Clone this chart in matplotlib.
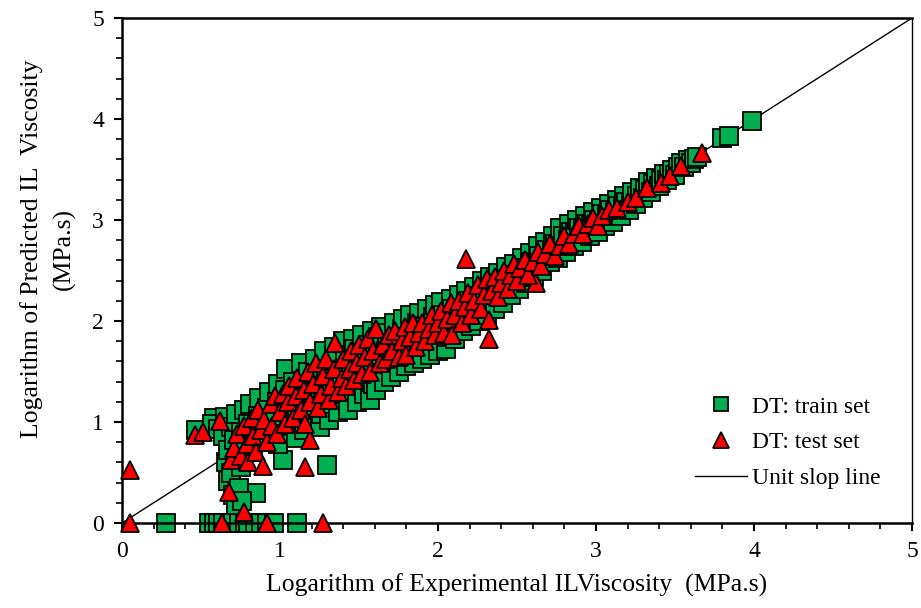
import matplotlib
matplotlib.use("Agg")
import matplotlib.pyplot as plt
from matplotlib.ticker import MultipleLocator
from matplotlib.lines import Line2D

plt.rcParams['font.family'] = ['Liberation Serif', 'DejaVu Serif']

# ---- data: train set (x = experimental log viscosity, y = predicted) ----
train_pts = [
    # points predicted as zero
    (0.28, 0.0), (0.55, 0.0), (0.58, 0.0), (0.61, 0.0), (0.64, 0.0), (0.70, 0.0),
    (0.74, 0.0), (0.78, 0.0), (0.80, 0.0), (0.84, 0.0), (0.88, 0.0), (0.92, 0.0),
    (0.96, 0.0), (1.11, 0.0),
    # scattered low points
    (0.47, 0.92), (0.58, 1.04), (1.02, 0.62), (1.30, 0.57), (0.85, 0.30),
    (0.66, 0.60), (0.67, 0.42), (0.69, 0.50), (0.70, 0.28), (0.72, 0.18),
    (0.74, 0.35), (0.76, 0.22), (0.75, 0.55),
    # x 0.55 - 1.0
    (0.57, 0.98), (0.61, 0.93), (0.64, 0.86), (0.65, 1.05), (0.67, 0.72), (0.69, 0.95),
    (0.71, 0.82), (0.72, 1.08), (0.74, 0.66), (0.75, 0.90), (0.77, 1.12), (0.78, 0.76),
    (0.80, 0.98), (0.81, 1.18), (0.83, 0.70), (0.84, 0.88), (0.86, 1.06), (0.87, 1.24),
    (0.89, 0.80), (0.90, 0.95), (0.92, 1.14), (0.93, 1.30), (0.95, 0.86), (0.96, 1.02),
    (0.98, 1.20), (0.99, 1.38), (0.99, 0.78),
    # x 1.0 - 1.6
    (1.01, 0.88), (1.02, 1.10), (1.03, 1.32), (1.04, 1.52), (1.06, 0.96), (1.07, 1.18),
    (1.08, 1.40), (1.10, 0.84), (1.11, 1.05), (1.12, 1.27), (1.13, 1.58), (1.15, 0.92),
    (1.16, 1.14), (1.17, 1.36), (1.18, 1.50), (1.20, 0.98), (1.21, 1.22), (1.22, 1.62),
    (1.23, 1.42), (1.25, 0.95), (1.26, 1.08), (1.27, 1.30), (1.28, 1.70), (1.29, 1.52),
    (1.31, 1.02), (1.32, 1.18), (1.33, 1.40), (1.34, 1.74), (1.35, 1.60), (1.37, 1.10),
    (1.38, 1.28), (1.39, 1.48), (1.40, 1.80), (1.41, 1.66), (1.43, 1.12), (1.44, 1.36),
    (1.45, 1.56), (1.46, 1.82), (1.47, 1.72), (1.49, 1.20), (1.50, 1.42), (1.51, 1.62),
    (1.52, 1.86), (1.53, 1.28), (1.55, 1.50), (1.56, 1.76), (1.57, 1.22), (1.58, 1.90),
    (1.59, 1.38), (1.60, 1.64),
    # x 1.6 - 2.1
    (1.61, 1.32), (1.62, 1.84), (1.63, 1.52), (1.64, 1.94), (1.66, 1.40), (1.67, 1.70),
    (1.68, 1.88), (1.70, 1.45), (1.71, 1.60), (1.72, 1.98), (1.73, 1.78), (1.75, 1.50),
    (1.76, 1.66), (1.77, 1.92), (1.78, 2.02), (1.80, 1.55), (1.81, 1.74), (1.82, 2.06),
    (1.83, 1.88), (1.85, 1.58), (1.86, 1.70), (1.87, 1.98), (1.88, 2.08), (1.90, 1.62),
    (1.91, 1.80), (1.92, 1.95), (1.93, 2.12), (1.95, 1.66), (1.96, 1.86), (1.97, 2.04),
    (1.98, 2.16), (2.00, 1.70), (2.01, 1.90), (2.02, 2.19), (2.03, 2.06), (2.05, 1.72),
    (2.06, 1.84), (2.07, 2.00), (2.08, 2.22), (2.09, 2.12),
    # x 2.1 - 2.7
    (2.11, 1.82), (2.12, 1.96), (2.13, 2.26), (2.14, 2.10), (2.16, 1.90), (2.17, 2.04),
    (2.18, 2.30), (2.19, 2.20), (2.21, 1.95), (2.22, 2.10), (2.23, 2.34), (2.24, 2.25),
    (2.26, 2.00), (2.27, 2.15), (2.28, 2.40), (2.29, 2.30), (2.31, 2.06), (2.32, 2.20),
    (2.33, 2.44), (2.34, 2.34), (2.36, 2.12), (2.37, 2.26), (2.38, 2.48), (2.39, 2.38),
    (2.41, 2.18), (2.42, 2.32), (2.43, 2.53), (2.44, 2.42), (2.46, 2.26), (2.47, 2.36),
    (2.48, 2.56), (2.49, 2.46), (2.51, 2.32), (2.52, 2.42), (2.53, 2.62), (2.54, 2.52),
    (2.56, 2.38), (2.57, 2.48), (2.58, 2.67), (2.59, 2.58), (2.61, 2.44), (2.62, 2.55),
    (2.63, 2.74), (2.64, 2.64), (2.66, 2.50), (2.67, 2.62), (2.68, 2.78), (2.69, 2.70),
    # x 2.7 - 3.65
    (2.71, 2.58), (2.72, 2.68), (2.73, 2.84), (2.74, 2.76), (2.76, 2.62), (2.77, 2.92),
    (2.78, 2.74), (2.79, 2.84), (2.81, 2.68), (2.82, 2.80), (2.83, 2.96), (2.84, 2.88),
    (2.86, 2.74), (2.87, 2.86), (2.88, 3.00), (2.89, 2.92), (2.91, 2.78), (2.92, 2.90),
    (2.93, 3.04), (2.94, 2.96), (2.96, 2.84), (2.97, 2.95), (2.98, 3.08), (2.99, 3.00),
    (3.01, 2.88), (3.02, 3.00), (3.03, 3.12), (3.04, 3.06), (3.06, 2.94), (3.07, 3.04),
    (3.08, 3.16), (3.09, 3.10), (3.11, 2.98), (3.12, 3.08), (3.13, 3.20), (3.14, 3.14),
    (3.16, 3.04), (3.17, 3.14), (3.18, 3.24), (3.19, 3.18), (3.21, 3.10), (3.22, 3.18),
    (3.23, 3.28), (3.25, 3.16), (3.26, 3.24), (3.28, 3.32), (3.30, 3.22), (3.31, 3.30),
    (3.33, 3.38), (3.35, 3.28), (3.36, 3.36), (3.38, 3.42), (3.40, 3.34), (3.41, 3.40),
    (3.43, 3.46), (3.45, 3.40), (3.46, 3.46), (3.48, 3.50), (3.50, 3.45), (3.52, 3.52),
    (3.54, 3.56), (3.56, 3.52), (3.58, 3.59), (3.60, 3.56), (3.62, 3.60), (3.64, 3.62),
    (3.80, 3.81), (3.84, 3.83), (3.99, 3.98),
]

# ---- data: test set ----
test_pts = [
    (0.05, 0.52), (0.05, 0.0), (0.63, 0.0), (0.92, 0.0), (1.27, 0.0),
    (0.77, 0.11), (0.68, 0.31), (1.16, 0.55), (1.19, 0.82),
    (0.46, 0.87), (0.51, 0.90), (0.62, 1.01),
    (2.18, 2.61), (2.32, 1.82), (2.62, 2.38),
    (0.69, 0.62), (0.71, 0.74), (0.73, 0.88), (0.75, 0.66), (0.77, 0.96), (0.79, 0.78),
    (0.80, 0.60), (0.82, 1.04), (0.83, 0.86), (0.85, 0.70), (0.86, 1.12), (0.88, 0.92),
    (0.89, 0.56), (0.90, 1.02), (0.92, 0.80), (0.94, 1.18), (0.95, 0.96), (0.97, 1.26),
    (0.98, 0.88), (1.00, 1.10), (1.02, 1.28), (1.03, 0.98), (1.05, 1.20), (1.06, 1.36),
    (1.08, 1.04), (1.10, 1.26), (1.11, 1.44), (1.13, 1.12), (1.15, 1.32), (1.16, 0.98),
    (1.18, 1.50), (1.19, 1.20), (1.21, 1.38), (1.23, 1.58), (1.24, 1.14), (1.26, 1.28),
    (1.27, 1.46), (1.29, 1.62), (1.31, 1.22), (1.32, 1.36), (1.34, 1.52), (1.35, 1.78),
    (1.37, 1.30), (1.39, 1.44), (1.40, 1.62), (1.42, 1.36), (1.44, 1.52), (1.45, 1.70),
    (1.47, 1.42), (1.49, 1.58), (1.50, 1.76), (1.52, 1.48), (1.54, 1.64), (1.56, 1.82),
    (1.57, 1.50), (1.59, 1.70), (1.61, 1.92), (1.63, 1.58), (1.65, 1.76), (1.67, 1.62),
    (1.69, 1.86), (1.71, 1.70), (1.73, 1.90), (1.75, 1.64), (1.77, 1.80), (1.79, 1.94),
    (1.80, 1.66), (1.82, 1.84), (1.84, 1.98), (1.86, 1.74), (1.88, 1.88), (1.90, 1.98),
    (1.92, 1.80), (1.94, 1.92), (1.96, 2.06), (1.98, 1.86), (2.00, 1.98), (2.02, 2.10),
    (2.04, 1.88), (2.06, 2.02), (2.08, 2.18), (2.09, 1.86), (2.11, 2.06), (2.13, 2.20),
    (2.15, 1.98), (2.17, 2.14), (2.19, 2.28), (2.21, 2.06), (2.23, 2.20), (2.25, 2.36),
    (2.27, 2.12), (2.29, 2.26), (2.31, 2.42), (2.32, 2.01), (2.34, 2.30), (2.36, 2.44),
    (2.38, 2.24), (2.40, 2.38), (2.42, 2.50), (2.44, 2.32), (2.46, 2.46), (2.48, 2.56),
    (2.50, 2.40), (2.52, 2.52), (2.55, 2.60), (2.57, 2.46), (2.60, 2.58), (2.63, 2.68),
    (2.65, 2.54), (2.68, 2.66), (2.71, 2.76), (2.74, 2.64), (2.77, 2.74), (2.80, 2.84),
    (2.83, 2.76), (2.86, 2.86), (2.89, 2.94), (2.92, 2.86), (2.95, 2.96), (2.98, 3.02),
    (3.01, 2.94), (3.04, 3.04), (3.08, 3.10), (3.13, 3.12), (3.20, 3.18), (3.25, 3.22),
    (3.32, 3.32), (3.41, 3.37), (3.47, 3.44), (3.54, 3.53), (3.67, 3.66),
]

train_x = [p[0] for p in train_pts]
train_y = [p[1] for p in train_pts]
test_x = [p[0] for p in test_pts]
test_y = [p[1] for p in test_pts]

line_x = [0, 5]
line_y = [0, 5]

labels = ["DT: train set", "DT: test set", "Unit slop line"]
xlabel = "Logarithm of Experimental ILViscosity  (MPa.s)"
ylabel = "Logarithm of Predicted IL  Viscosity\n(MPa.s)"

fig = plt.figure(figsize=(9.21, 6.08), dpi=100)
ax = fig.add_axes([122/921, 1-523/608, (912-122)/921, (523-18)/608])

ax.plot(line_x, line_y, color='black', lw=1.0, zorder=1)
ax.plot(train_x, train_y, linestyle='none', marker='s', markersize=13,
        markerfacecolor='#00b050', markeredgecolor='black', markeredgewidth=1.3,
        zorder=2, clip_on=False)
ax.plot(test_x, test_y, linestyle='none', marker='^', markersize=13.5,
        markerfacecolor='#ff0000', markeredgecolor='black', markeredgewidth=1.3,
        zorder=3, clip_on=False)

ax.set_xlim(0, 5)
ax.set_ylim(0, 5)
ax.xaxis.set_major_locator(MultipleLocator(1))
ax.yaxis.set_major_locator(MultipleLocator(1))
ax.xaxis.set_minor_locator(MultipleLocator(0.2))
ax.yaxis.set_minor_locator(MultipleLocator(0.2))
ax.tick_params(which='major', direction='out', length=6, width=1.5, labelsize=17, pad=7)
ax.tick_params(which='minor', direction='out', length=4, width=1.2)
ax.tick_params(axis='x', top=False)
ax.tick_params(axis='y', right=False)

for side in ['left', 'bottom', 'top']:
    ax.spines[side].set_linewidth(1.8)
ax.spines['right'].set_linewidth(1.0)

ax.set_xlabel(xlabel, fontsize=18.5, labelpad=8)
ax.set_ylabel(ylabel, fontsize=18.5, linespacing=1.55)
ax.yaxis.set_label_coords(-0.058, 0.543)

handles = [
    Line2D([], [], linestyle='none', marker='s', markersize=10, markerfacecolor='#00b050',
           markeredgecolor='black', markeredgewidth=1.3),
    Line2D([], [], linestyle='none', marker='^', markersize=11, markerfacecolor='#ff0000',
           markeredgecolor='black', markeredgewidth=1.3),
    Line2D([], [], color='black', lw=1.0),
]
ax.legend(handles, labels, loc='lower right', bbox_to_anchor=(0.987, 0.025), frameon=False,
          fontsize=17, handlelength=2.2, handletextpad=0.2, labelspacing=0.6)

fig.savefig("out.png", dpi=100)
